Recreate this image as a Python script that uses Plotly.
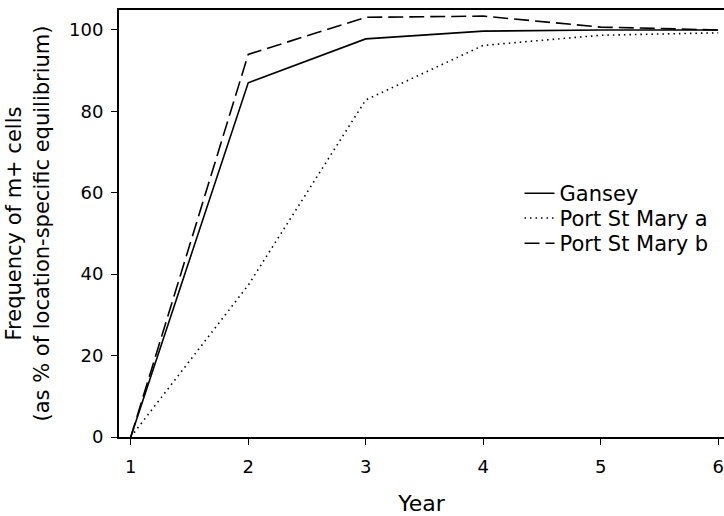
import plotly.graph_objects as go

years = [1, 2, 3, 4, 5, 6]
gansey = [0, 87.0, 97.8, 99.7, 100.0, 100.0]
psm_a = [0, 37.3, 82.8, 96.2, 98.7, 99.3]
psm_b = [0, 94.0, 103.1, 103.4, 100.7, 100.0]
names = ["Gansey", "Port St Mary a", "Port St Mary b"]

fig = go.Figure()
fig.add_trace(go.Scatter(x=years, y=gansey, mode="lines", name=names[0], legend="legend",
                         line=dict(color="black", width=1.6, dash="solid")))
fig.add_trace(go.Scatter(x=years, y=psm_a, mode="lines", name=names[1], legend="legend2",
                         line=dict(color="black", width=1.6, dash="1.5px,4px")))
fig.add_trace(go.Scatter(x=years, y=psm_b, mode="lines", name=names[2], legend="legend3",
                         line=dict(color="black", width=1.6, dash="15px,6px")))

font_family = "DejaVu Sans, Arial, sans-serif"
leg_common = dict(x=0.662, xanchor="left", yanchor="top",
                  font=dict(size=21), bgcolor="rgba(0,0,0,0)", itemwidth=30)

fig.update_layout(
    width=724, height=516,
    margin=dict(l=119, r=0, t=10, b=79),
    paper_bgcolor="white", plot_bgcolor="white",
    font=dict(family=font_family, color="black", size=20),
    showlegend=True,
    legend=dict(y=0.618, **leg_common),
    legend2=dict(y=0.560, **leg_common),
    legend3=dict(y=0.501, **leg_common),
    xaxis=dict(range=[0.9, 6.05], tickvals=years, ticktext=[str(v) for v in years],
               showline=True, linecolor="black", linewidth=2, mirror=True,
               ticks="outside", ticklen=6, tickcolor="black", showgrid=False,
               zeroline=False, tickfont=dict(size=18), automargin=False,
               ticklabelstandoff=6,
               title=dict(text="Year", font=dict(size=22), standoff=26)),
    yaxis=dict(range=[0, 104.9], tickvals=[0, 20, 40, 60, 80, 100],
               showline=True, linecolor="black", linewidth=2, mirror=False,
               ticks="outside", ticklen=6, tickcolor="black", showgrid=False,
               zeroline=False, tickfont=dict(size=18), automargin=False,
               ticklabelstandoff=4,
               title=dict(text="Frequency of m+ cells<br>(as % of location-specific equilibrium)",
                          font=dict(size=21), standoff=14)),
)

fig.write_html("out.html", config={"displayModeBar": False},
               post_script="document.body.style.margin='0px';")
